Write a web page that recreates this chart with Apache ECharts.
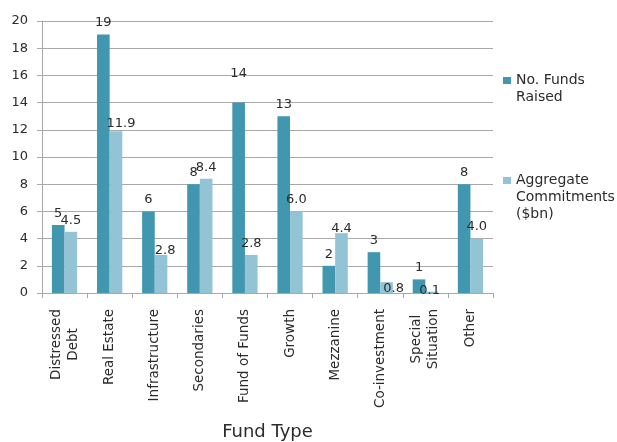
<!DOCTYPE html>
<html>
<head>
<meta charset="utf-8">
<script src="https://cdn.jsdelivr.net/npm/echarts@6/dist/echarts.min.js"></script>
<style>
  html, body { margin: 0; padding: 0; background: #ffffff; }
  #chart { width: 617px; height: 442px; }
</style>
</head>
<body>
<div id="chart"></div>
<script>
// Fund types (a "\n" splits a name over two lines)
const categories = [
  'Distressed\nDebt', 'Real Estate', 'Infrastructure', 'Secondaries', 'Fund of Funds',
  'Growth', 'Mezzanine', 'Co-investment', 'Special\nSituation', 'Other'
];
const fundsRaised = [5, 19, 6, 8, 14, 13, 2, 3, 1, 8];
const aggregateCommitments = [4.5, 11.9, 2.8, 8.4, 2.8, 6.0, 4.4, 0.8, 0.1, 4.0];
const yTicks = { min: 0, max: 20, interval: 2 };

const seriesNames = ['No. Funds Raised', 'Aggregate Commitments ($bn)'];
const legendText = ['No. Funds\nRaised', 'Aggregate\nCommitments\n($bn)'];
const colors = ['#4197b0', '#93c4d6'];
const FONT = 'DejaVu Sans';
const TEXT = '#2b2b2b';
const LINE = '#a9a9a9';

// Hand-placed value labels that sit off their default spot
const labelShift = {
  1: { 4: [0, -17] },
  2: { 1: [5, 4], 2: [4, 7], 6: [0, 7], 7: [7, 18], 8: [-2, 10] }
};

function barData(values, seriesIdx) {
  const shifts = labelShift[seriesIdx + 1] || {};
  return values.map((v, i) => {
    const item = { value: v };
    if (shifts[i]) item.label = { offset: shifts[i] };
    return item;
  });
}

function makeSeries(values, idx, digits) {
  return {
    name: seriesNames[idx],
    type: 'bar',
    data: barData(values, idx),
    barGap: '0%',
    barCategoryGap: '44%',
    itemStyle: { color: colors[idx] },
    label: {
      show: true,
      position: 'top',
      distance: 5,
      color: TEXT,
      fontFamily: FONT,
      fontSize: 13,
      formatter: p => Number(p.value).toFixed(digits)
    }
  };
}

// Legend entry whose first text line lines up with its colour square:
// blank lines above the text balance the lines below it.
function legendFor(idx, top) {
  const lines = legendText[idx].split('\n');
  const pad = '\n'.repeat(lines.length - 1);
  return {
    orient: 'vertical',
    left: 503,
    top: top,
    padding: 0,
    itemWidth: 8,
    itemHeight: 7,
    icon: 'rect',
    data: [seriesNames[idx]],
    formatter: () => pad + legendText[idx],
    textStyle: {
      color: TEXT,
      fontFamily: FONT,
      fontSize: 14,
      lineHeight: 17
    }
  };
}

const chart = echarts.init(document.getElementById('chart'), null, { renderer: 'canvas' });
chart.setOption({
  animation: false,
  backgroundColor: '#ffffff',
  grid: { left: 42, right: 124, top: 21, bottom: 149, containLabel: false, outerBoundsMode: 'none' },
  legend: [legendFor(0, 55), legendFor(1, 138)],
  xAxis: {
    type: 'category',
    data: categories,
    name: 'Fund Type',
    nameLocation: 'middle',
    nameGap: 130,
    nameTextStyle: { color: TEXT, fontFamily: FONT, fontSize: 18 },
    axisLine: { lineStyle: { color: LINE, width: 1 } },
    axisTick: { show: true, length: 5, lineStyle: { color: LINE } },
    axisLabel: {
      rotate: 90,
      margin: 16,
      interval: 0,
      formatter: v => v.split('\n').map(s => '{c|' + s + '}').join('\n'),
      rich: { c: { align: 'center', color: TEXT, fontFamily: FONT, fontSize: 13.5, lineHeight: 17 } }
    }
  },
  yAxis: {
    type: 'value',
    min: yTicks.min,
    max: yTicks.max,
    interval: yTicks.interval,
    axisLine: { show: true, lineStyle: { color: LINE, width: 1 } },
    axisTick: { show: true, length: 5, lineStyle: { color: LINE } },
    splitLine: { lineStyle: { color: LINE, width: 1 } },
    axisLabel: { color: TEXT, fontFamily: FONT, fontSize: 13, margin: 14 }
  },
  series: [
    makeSeries(fundsRaised, 0, 0),
    makeSeries(aggregateCommitments, 1, 1)
  ]
});
</script>
</body>
</html>
